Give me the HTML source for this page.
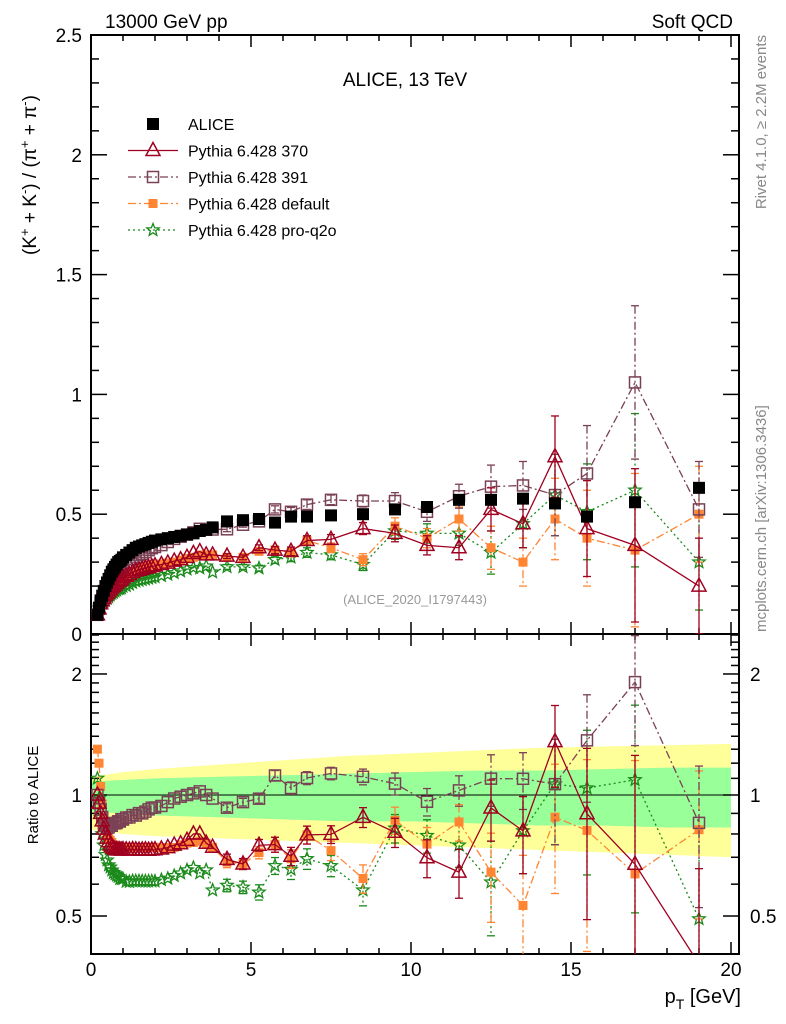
<!DOCTYPE html>
<html><head><meta charset="utf-8"><style>
body{margin:0;background:#fff;}
svg{display:block;font-family:"Liberation Sans",sans-serif;}
</style></head><body>
<svg id="chart" width="786" height="1024" viewBox="0 0 786 1024" xmlns="http://www.w3.org/2000/svg">
<text x="105" y="28" font-size="19">13000 GeV pp</text>
<text x="733" y="28" font-size="19" text-anchor="end">Soft QCD</text>
<text x="405" y="86" font-size="19" text-anchor="middle">ALICE, 13 TeV</text>
<text x="415" y="604" font-size="13" fill="#999" text-anchor="middle">(ALICE_2020_I1797443)</text>
<text transform="translate(766,35) rotate(-90)" font-size="15" fill="#888" text-anchor="end">Rivet 4.1.0, ≥ 2.2M events</text>
<text transform="translate(766,632) rotate(-90)" font-size="15" fill="#888">mcplots.cern.ch [arXiv:1306.3436]</text>
<text transform="translate(36,175) rotate(-90)" font-size="19" text-anchor="middle">(K<tspan dy="-7" font-size="13">+</tspan><tspan dy="7"> + K</tspan><tspan dy="-7" font-size="13">-</tspan><tspan dy="7">) / (π</tspan><tspan dy="-7" font-size="13">+</tspan><tspan dy="7"> + π</tspan><tspan dy="-7" font-size="13">-</tspan><tspan dy="7">)</tspan></text>
<text transform="translate(38,795) rotate(-90)" font-size="15" text-anchor="middle">Ratio to ALICE</text>
<text x="741" y="1003" font-size="20" text-anchor="end">p<tspan dy="6" font-size="14">T</tspan><tspan dy="-6"> [GeV]</tspan></text>
<g id="bands"></g><g id="axes"></g><g id="series"></g><g id="legend"></g>
</svg>
<script>
const xs=[0.2,0.25,0.3,0.35,0.4,0.45,0.5,0.55,0.6,0.65,0.7,0.75,0.8,0.85,0.9,0.95,1.0,1.1,1.2,1.3,1.4,1.5,1.6,1.7,1.8,1.9,2.0,2.2,2.4,2.6,2.8,3.0,3.2,3.4,3.6,3.8,4.25,4.75,5.25,5.75,6.25,6.75,7.5,8.5,9.5,10.5,11.5,12.5,13.5,14.5,15.5,17,19];
const alice=[0.08,0.11,0.14,0.16,0.18,0.2,0.215,0.23,0.245,0.26,0.27,0.28,0.29,0.3,0.305,0.31,0.32,0.33,0.34,0.35,0.36,0.365,0.37,0.375,0.38,0.385,0.39,0.395,0.4,0.405,0.41,0.415,0.42,0.43,0.435,0.445,0.47,0.475,0.48,0.465,0.49,0.49,0.495,0.5,0.52,0.53,0.56,0.56,0.565,0.545,0.49,0.55,0.61];
const p370=[0.08,0.105,0.126,0.138,0.148,0.16,0.168,0.176,0.184,0.193,0.199,0.205,0.212,0.219,0.223,0.226,0.234,0.241,0.248,0.256,0.263,0.266,0.27,0.274,0.277,0.281,0.285,0.29,0.296,0.304,0.31,0.32,0.336,0.344,0.33,0.33,0.325,0.32,0.36,0.35,0.345,0.39,0.395,0.44,0.42,0.37,0.36,0.52,0.46,0.74,0.44,0.37,0.2];
const p391=[0.08,0.105,0.129,0.141,0.153,0.168,0.178,0.191,0.206,0.218,0.23,0.238,0.247,0.258,0.262,0.27,0.278,0.29,0.299,0.312,0.32,0.329,0.333,0.341,0.35,0.358,0.363,0.371,0.384,0.397,0.406,0.415,0.424,0.439,0.435,0.436,0.437,0.456,0.47,0.52,0.51,0.54,0.56,0.555,0.555,0.51,0.575,0.615,0.62,0.58,0.67,1.05,0.52];
const pdef=[0.104,0.132,0.147,0.152,0.158,0.168,0.172,0.179,0.189,0.198,0.203,0.207,0.215,0.222,0.226,0.229,0.237,0.244,0.252,0.259,0.266,0.27,0.274,0.278,0.281,0.285,0.289,0.292,0.296,0.3,0.308,0.315,0.32,0.33,0.33,0.33,0.32,0.32,0.345,0.35,0.34,0.39,0.36,0.31,0.45,0.4,0.48,0.36,0.3,0.48,0.4,0.35,0.5];
const pq2o=[0.088,0.108,0.123,0.128,0.135,0.142,0.148,0.154,0.162,0.169,0.173,0.178,0.183,0.188,0.189,0.192,0.198,0.201,0.207,0.214,0.22,0.223,0.226,0.229,0.232,0.235,0.238,0.243,0.248,0.255,0.262,0.27,0.277,0.275,0.283,0.258,0.28,0.28,0.275,0.31,0.32,0.34,0.33,0.29,0.43,0.42,0.42,0.34,0.46,0.58,0.51,0.6,0.3];
const errs=[0,0,0,0,0,0,0,0,0,0,0,0,0,0,0,0,0,0,0,0,0,0,0,0,0,0,0,0,0,0,0,0,0,0,0,0,0.01,0.01,0.012,0.015,0.018,0.02,0.02,0.025,0.035,0.04,0.05,0.09,0.1,0.17,0.2,0.32,0.2];
const bandX=[0,1,2,4,6,8,10,12,14,16,18,20];
const yelLo=[0.82,0.8,0.79,0.78,0.77,0.76,0.75,0.74,0.73,0.72,0.71,0.70];
const yelHi=[1.11,1.14,1.16,1.19,1.22,1.25,1.27,1.29,1.31,1.32,1.33,1.34];
const grnLo=[0.91,0.9,0.89,0.88,0.87,0.86,0.86,0.85,0.84,0.84,0.83,0.83];
const grnHi=[1.08,1.09,1.1,1.11,1.12,1.13,1.14,1.15,1.15,1.16,1.17,1.17];
const mainTicks=["0","0.5","1","1.5","2","2.5"];
const ratioTicks=["0.5","1","2"];
const xTicks=["0","5","10","15","20"];

const NS="http://www.w3.org/2000/svg";
const L=91,R=739,T1=35,B1=634,B2=954;
const X=v=>L+v*32;
const Y=v=>B1-v*239.6;
const YR=v=>795-Math.log10(v)*402;
function mk(tag,at,parent){const e=document.createElementNS(NS,tag);for(const k in at)e.setAttribute(k,at[k]);parent.appendChild(e);return e;}
const axes=document.getElementById('axes'),bands=document.getElementById('bands'),ser=document.getElementById('series'),leg=document.getElementById('legend');

function band(lo,hi,col,name){let d='';for(let i=0;i<bandX.length;i++)d+=(i?'L':'M')+X(bandX[i])+','+YR(hi[i]);for(let i=bandX.length-1;i>=0;i--)d+='L'+X(bandX[i])+','+YR(lo[i]);const p=mk('path',{d:d+'Z',fill:col},bands);

}
band(yelLo,yelHi,'#ffff99','uncertainty-band-outer');
band(grnLo,grnHi,'#99ff99','uncertainty-band-inner');
const ref=mk('line',{x1:L,x2:R,y1:YR(1),y2:YR(1),stroke:'#000','stroke-width':1},bands);



const f1=mk('rect',{x:L,y:T1,width:R-L,height:B1-T1,fill:'none',stroke:'#000','stroke-width':2},axes);


const f2=mk('rect',{x:L,y:B1,width:R-L,height:B2-B1,fill:'none',stroke:'#000','stroke-width':2},axes);


for(let v=0;v<=20.5;v+=1){const len=v%5==0?12:6;const x=X(v);
 [[B1,-1],[T1,1],[B2,-1],[B1,1]].forEach(([y,s])=>mk('line',{x1:x,x2:x,y1:y,y2:y+s*len,stroke:'#000','stroke-width':1.5},axes));}
xTicks.forEach(t=>{const e=mk('text',{x:X(+t),y:976,'font-size':19,'text-anchor':'middle'},axes);e.textContent=t;

});
for(let i=0;i<=25;i++){const v=i/10,y=Y(v),len=i%5==0?16:8;
 mk('line',{x1:L,x2:L+len,y1:y,y2:y,stroke:'#000','stroke-width':1.5},axes);
 mk('line',{x1:R,x2:R-len,y1:y,y2:y,stroke:'#000','stroke-width':1.5},axes);}
mainTicks.forEach(t=>{const e=mk('text',{x:82,y:Y(+t)+7,'font-size':19,'text-anchor':'end'},axes);e.textContent=t;

});
for(let i=5;i<=25;i++){const v=i/10;if(v<0.41||v>2.5)continue;const y=YR(v);const len=(i==5||i==10||i==20)?16:8;
 mk('line',{x1:L,x2:L+len,y1:y,y2:y,stroke:'#000','stroke-width':1.5},axes);
 mk('line',{x1:R,x2:R-len,y1:y,y2:y,stroke:'#000','stroke-width':1.5},axes);}
ratioTicks.forEach(t=>{const e=mk('text',{x:82,y:YR(+t)+7,'font-size':19,'text-anchor':'end'},axes);e.textContent=t;


const e2=mk('text',{x:750,y:YR(+t)+7,'font-size':19},axes);e2.textContent=t;

});

function marker(g,type,x,y,col){
 if(type=='sqf')mk('rect',{x:x-6,y:y-6,width:12,height:12,fill:col},g);
 else if(type=='sqo')mk('rect',{x:x-5.5,y:y-5.5,width:11,height:11,fill:'none',stroke:col,'stroke-width':1.5},g);
 else if(type=='sqs')mk('rect',{x:x-4.5,y:y-4.5,width:9,height:9,fill:col},g);
 else if(type=='tri')mk('path',{d:`M${x},${y-8}L${x+7},${y+5}L${x-7},${y+5}Z`,fill:'none',stroke:col,'stroke-width':1.5},g);
 else if(type=='star'){let d='';for(let k=0;k<10;k++){const r=k%2?2.8:6.5,a=-Math.PI/2+k*Math.PI/5;d+=(k?'L':'M')+(x+r*Math.cos(a))+','+(y+r*Math.sin(a));}mk('path',{d:d+'Z',fill:'none',stroke:col,'stroke-width':1.3},g);}
}
function clipR(v){return Math.max(0.38,Math.min(2.6,v));}
function drawSeries(name,vals,type,col,dash,isData){
 const g=mk('g',{},ser);
 
 
 [[Y,v=>v,B1,T1],[YR,(v,i)=>v/alice[i],B2,B1]].forEach(([yf,tr,bot,top],pi)=>{
  const cg=mk('g',{},g);
  const cid='clip'+pi;
  if(!document.getElementById(cid)){const c=mk('clipPath',{id:cid},document.getElementById('chart'));mk('rect',{x:L,y:top,width:R-L,height:bot-top},c);}
  cg.setAttribute('clip-path','url(#'+cid+')');
  if(!isData){let d='';vals.forEach((v,i)=>{const r=tr(v,i);d+=(i?'L':'M')+X(xs[i])+','+yf(pi?clipR(r):r);});
   mk('path',{d:d,fill:'none',stroke:col,'stroke-width':1.3,'stroke-dasharray':dash},cg);
   vals.forEach((v,i)=>{if(!errs[i])return;const r=tr(v,i),e=pi?errs[i]/alice[i]:errs[i];const x=X(xs[i]);
    const y1=yf(pi?clipR(r+e):r+e),y2=yf(pi?clipR(Math.max(r-e,0.01)):Math.max(r-e,0));
    mk('line',{x1:x,x2:x,y1:y1,y2:y2,stroke:col,'stroke-width':1.3,'stroke-dasharray':dash},cg);
    mk('line',{x1:x-4,x2:x+4,y1:y1,y2:y1,stroke:col,'stroke-width':1.3},cg);
    mk('line',{x1:x-4,x2:x+4,y1:y2,y2:y2,stroke:col,'stroke-width':1.3},cg);});}
  if(isData&&pi)return;
  vals.forEach((v,i)=>{const r=tr(v,i);if(pi&&(r<0.4||r>2.5))return;marker(cg,type,X(xs[i]),yf(r),col);});
 });
}
drawSeries('series-pythia-pro-q2o',pq2o,'star','#1a8a1a','2,3',false);
drawSeries('series-pythia-default',pdef,'sqs','#ff8533','8,3,2,3',false);
drawSeries('series-pythia-391',p391,'sqo','#7a4055','8,3,2,3',false);
drawSeries('series-pythia-370',p370,'tri','#a00020','',false);
drawSeries('series-alice-data',alice,'sqf','#000','',true);

const legItems=[['ALICE','sqf','#000',null],['Pythia 6.428 370','tri','#a00020',''],['Pythia 6.428 391','sqo','#7a4055','8,3,2,3'],['Pythia 6.428 default','sqs','#ff8533','8,3,2,3'],['Pythia 6.428 pro-q2o','star','#1a8a1a','2,3']];
legItems.forEach((it,i)=>{const y=124+i*26.5;const g=mk('g',{},leg);
 
 
 if(it[3]!==null)mk('line',{x1:128,x2:178,y1:y,y2:y,stroke:it[2],'stroke-width':1.3,'stroke-dasharray':it[3]},g);
 marker(g,it[1],153,y,it[2]);
 const t=mk('text',{x:188,y:y+6,'font-size':16},g);t.textContent=it[0];});
</script>
</body></html>
